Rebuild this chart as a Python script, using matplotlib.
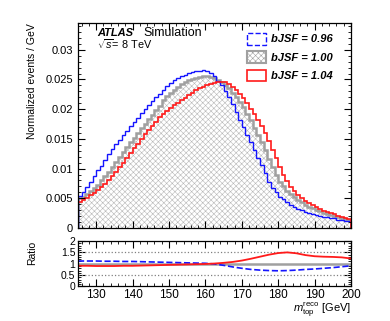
import numpy as np
import matplotlib
matplotlib.use("Agg")
import matplotlib.pyplot as plt
from matplotlib.patches import Patch
from matplotlib.ticker import MultipleLocator, FuncFormatter

plt.rcParams['font.family'] = ['Liberation Sans', 'DejaVu Sans']
plt.rcParams['mathtext.fontset'] = 'custom'
plt.rcParams['mathtext.rm'] = 'Liberation Sans'
plt.rcParams['mathtext.it'] = 'Liberation Sans:italic'
plt.rcParams['hatch.linewidth'] = 0.4

# ---- data ----
bin_edges = np.arange(125, 201, 1)

bjsf_096 = [0.0054, 0.0060, 0.0069, 0.0078, 0.0088, 0.0098, 0.0105, 0.0114, 0.0124, 0.0133,
            0.0141, 0.0148, 0.0156, 0.0164, 0.0171, 0.0178, 0.0185, 0.0193, 0.0200, 0.0207,
            0.0213, 0.0220, 0.0226, 0.0232, 0.0239, 0.0244, 0.0249, 0.0252, 0.0255, 0.0258,
            0.0261, 0.0263, 0.0264, 0.0265, 0.0266, 0.0264, 0.0261, 0.0255, 0.0248, 0.0240,
            0.0230, 0.0220, 0.0208, 0.0195, 0.0182, 0.0170, 0.0157, 0.0145, 0.0131, 0.0118,
            0.0106, 0.0093, 0.0078, 0.0068, 0.0060, 0.0053, 0.0048, 0.0043, 0.0039, 0.0035,
            0.0032, 0.0030, 0.0027, 0.0025, 0.0023, 0.0022, 0.0020, 0.0019, 0.0018, 0.0017,
            0.0016, 0.0014, 0.0013, 0.0012, 0.0011]

bjsf_100 = [0.0050, 0.0053, 0.0058, 0.0063, 0.0068, 0.0073, 0.0080, 0.0087, 0.0095, 0.0103,
            0.0111, 0.0119, 0.0128, 0.0136, 0.0144, 0.0152, 0.0160, 0.0168, 0.0175, 0.0183,
            0.0191, 0.0199, 0.0206, 0.0215, 0.0222, 0.0228, 0.0233, 0.0238, 0.0242, 0.0246,
            0.0249, 0.0251, 0.0253, 0.0254, 0.0255, 0.0255, 0.0254, 0.0252, 0.0249, 0.0245,
            0.0241, 0.0235, 0.0228, 0.0221, 0.0212, 0.0203, 0.0192, 0.0181, 0.0169, 0.0157,
            0.0145, 0.0131, 0.0116, 0.0103, 0.0090, 0.0078, 0.0070, 0.0062, 0.0057, 0.0052,
            0.0047, 0.0043, 0.0039, 0.0036, 0.0033, 0.0030, 0.0028, 0.0026, 0.0024, 0.0022,
            0.0020, 0.0018, 0.0016, 0.0015, 0.0013]

bjsf_104 = [0.0044, 0.0047, 0.0051, 0.0055, 0.0059, 0.0064, 0.0069, 0.0074, 0.0080, 0.0087,
            0.0094, 0.0102, 0.0110, 0.0118, 0.0126, 0.0134, 0.0142, 0.0150, 0.0158, 0.0165,
            0.0172, 0.0179, 0.0186, 0.0192, 0.0197, 0.0202, 0.0207, 0.0211, 0.0215, 0.0219,
            0.0224, 0.0228, 0.0232, 0.0235, 0.0238, 0.0240, 0.0242, 0.0244, 0.0245, 0.0246,
            0.0245, 0.0242, 0.0237, 0.0232, 0.0226, 0.0219, 0.0210, 0.0201, 0.0192, 0.0182,
            0.0172, 0.0160, 0.0146, 0.0132, 0.0117, 0.0102, 0.0090, 0.0079, 0.0069, 0.0062,
            0.0056, 0.0050, 0.0046, 0.0042, 0.0038, 0.0035, 0.0032, 0.0029, 0.0027, 0.0025,
            0.0023, 0.0021, 0.0019, 0.0017, 0.0015]

ratio_x = [125, 127.5, 130, 132.5, 135, 137.5, 140, 142.5, 145, 147.5, 150, 152.5, 155, 157.5,
           160, 162.5, 165, 167.5, 170, 172.5, 175, 177.5, 180, 182.5, 185, 187.5, 190, 192.5,
           195, 197.5, 200]
ratio_096 = [1.12, 1.12, 1.12, 1.11, 1.11, 1.10, 1.10, 1.09, 1.08, 1.07, 1.06, 1.05, 1.04, 1.03,
             1.02, 0.99, 0.93, 0.86, 0.80, 0.75, 0.72, 0.70, 0.69, 0.70, 0.72, 0.75, 0.77, 0.80,
             0.83, 0.87, 0.91]
ratio_104 = [0.91, 0.91, 0.90, 0.90, 0.90, 0.91, 0.91, 0.92, 0.93, 0.94, 0.95, 0.96, 0.97, 0.98,
             0.99, 1.01, 1.04, 1.08, 1.14, 1.22, 1.31, 1.40, 1.47, 1.50, 1.46, 1.38, 1.33, 1.31,
             1.30, 1.28, 1.23]
ratio_100 = [1.0] * len(ratio_x)

labels = ['bJSF = 0.96', 'bJSF = 1.00', 'bJSF = 1.04']
c_blue, c_gray, c_red = '#1414ff', '#a0a0a0', '#ff1a1a'

fig = plt.figure(figsize=(3.9, 3.21), dpi=100)
ax = fig.add_axes([0.2, 0.2897, 0.7, 0.6386])
axr = fig.add_axes([0.2, 0.1075, 0.7, 0.1417])

# main panel
ax.stairs(bjsf_100, bin_edges, fill=True, facecolor='white', edgecolor='#b8b8b8',
          hatch='xxxxxx', linewidth=0)
ax.stairs(bjsf_100, bin_edges, color=c_gray, linewidth=1.8)
ax.stairs(bjsf_096, bin_edges, color=c_blue, linewidth=1.0)
ax.stairs(bjsf_104, bin_edges, color=c_red, linewidth=1.2)

ax.set_xlim(125, 200)
ax.set_ylim(0, 0.0345)
fmt = FuncFormatter(lambda v, p: ('%g' % round(v, 4)))
ax.yaxis.set_major_locator(MultipleLocator(0.005))
ax.yaxis.set_minor_locator(MultipleLocator(0.001))
ax.yaxis.set_major_formatter(fmt)
ax.xaxis.set_major_locator(MultipleLocator(10))
ax.xaxis.set_minor_locator(MultipleLocator(2))
ax.tick_params(labelbottom=False)
ax.set_ylabel('Normalized events / GeV', fontsize=7.5, loc='top')
ax.yaxis.set_label_coords(-0.15, 1.0)

for a in (ax, axr):
    a.tick_params(which='both', direction='in', top=True, right=True, labelsize=8)
    a.tick_params(which='major', length=5, width=0.8)
    a.tick_params(which='minor', length=2.5, width=0.6)
    for s in a.spines.values():
        s.set_linewidth(0.9)

ax.text(0.07, 0.951, 'ATLAS', transform=ax.transAxes, fontsize=8.0, fontweight='bold',
        style='italic', va='center')
ax.text(0.238, 0.951, 'Simulation', transform=ax.transAxes, fontsize=9.0, va='center')
ax.text(0.07, 0.897, r'$\sqrt{s}$= 8 TeV', transform=ax.transAxes, fontsize=7.8, va='center')

handles = [Patch(facecolor='none', edgecolor=c_blue, linestyle='--', linewidth=1.0),
           Patch(facecolor='white', edgecolor=c_gray, hatch='xxxxxx', linewidth=1.5),
           Patch(facecolor='none', edgecolor=c_red, linewidth=1.2)]
leg = ax.legend(handles, labels, loc='upper right', bbox_to_anchor=(0.962, 0.99), frameon=False,
                prop={'weight': 'bold', 'style': 'italic', 'size': 8},
                handlelength=1.7, handleheight=1.25, labelspacing=0.6, handletextpad=0.45,
                borderaxespad=0.3)

# ratio panel
axr.axhline(1.5, color='#808080', linestyle=':', linewidth=0.9)
axr.axhline(0.5, color='#808080', linestyle=':', linewidth=0.9)
axr.plot(ratio_x, ratio_100, color=c_gray, linewidth=1.8)
axr.plot(ratio_x, ratio_096, color=c_blue, linestyle='--', linewidth=1.2)
axr.plot(ratio_x, ratio_104, color=c_red, linewidth=1.3)
axr.set_xlim(125, 200)
axr.set_ylim(0, 2)
axr.yaxis.set_major_locator(MultipleLocator(0.5))
axr.yaxis.set_minor_locator(MultipleLocator(0.1))
axr.yaxis.set_major_formatter(FuncFormatter(lambda v, p: '%g' % v))
axr.xaxis.set_major_locator(MultipleLocator(10))
axr.xaxis.set_minor_locator(MultipleLocator(2))
axr.set_ylabel('Ratio', fontsize=7.5, loc='top')
axr.yaxis.set_label_coords(-0.15, 1.0)
axr.tick_params(axis='y', labelsize=7.5, pad=2)
axr.tick_params(axis='x', labelsize=8.5, pad=1.5)
fig.text(351 / 390, 1 - 310 / 321, r'$m_{\rm top}^{\rm reco}$ [GeV]', fontsize=8,
         ha='right', va='center')

fig.savefig('out.png', dpi=100)
